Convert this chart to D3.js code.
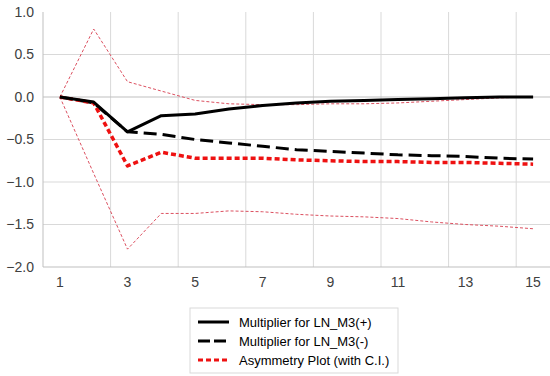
<!DOCTYPE html>
<html>
<head>
<meta charset="utf-8">
<script src="https://cdn.jsdelivr.net/npm/d3@7"></script>
<style>
  body { margin: 0; background: #fff; }
  svg { display: block; }
</style>
</head>
<body>
<svg width="550" height="376"></svg>
<script>
const periods = [1, 2, 3, 4, 5, 6, 7, 8, 9, 10, 11, 12, 13, 14, 15];
const multPos = [0, -0.06, -0.41, -0.22, -0.20, -0.14, -0.10, -0.07, -0.05, -0.04, -0.03, -0.02, -0.01, 0.0, 0.0];
const multNeg = [0, -0.07, -0.41, -0.44, -0.50, -0.54, -0.58, -0.62, -0.64, -0.66, -0.68, -0.69, -0.70, -0.72, -0.73];
const asym = [0, -0.07, -0.81, -0.65, -0.72, -0.72, -0.72, -0.74, -0.75, -0.76, -0.76, -0.77, -0.77, -0.78, -0.79];
const upperCI = [0, 0.80, 0.18, 0.07, -0.04, -0.08, -0.09, -0.09, -0.08, -0.08, -0.07, -0.05, -0.03, -0.01, 0.0];
const lowerCI = [0, -0.90, -1.79, -1.37, -1.37, -1.34, -1.35, -1.38, -1.40, -1.41, -1.43, -1.47, -1.50, -1.52, -1.55];
const yTicks = [1.0, 0.5, 0.0, -0.5, -1.0, -1.5, -2.0];
const xLabels = [1, 3, 5, 7, 9, 11, 13, 15];

const svg = d3.select('svg')
  .attr('font-family', "'Liberation Sans', Arial, sans-serif");
const margin = { top: 12, right: 0, bottom: 109, left: 43 };
const plotW = 550 - margin.left;
const plotH = 376 - margin.top - margin.bottom;

const g = svg.append('g')
  .attr('transform', `translate(${margin.left},${margin.top})`);

const xScale = d3.scaleBand()
  .domain(periods)
  .range([0, plotW]);
const yScale = d3.scaleLinear()
  .domain([-2, 1])
  .range([plotH, 0]);
const xPos = d => xScale(d) + xScale.bandwidth() / 2;

// vertical grid at category boundaries, every 2 categories
g.selectAll('.vgrid').data(periods.filter((d, i) => i % 2 === 1))
  .enter().append('line')
    .attr('x1', d => xScale(d) + xScale.bandwidth())
    .attr('x2', d => xScale(d) + xScale.bandwidth())
    .attr('y1', 0).attr('y2', plotH)
    .attr('stroke', '#d9d9d9');

// horizontal grid (no line on the top value)
g.selectAll('.hgrid').data(yTicks.filter(d => d !== 1))
  .enter().append('line')
    .attr('x1', 0).attr('x2', plotW)
    .attr('y1', d => yScale(d)).attr('y2', d => yScale(d))
    .attr('stroke', d => d === 0 || d === -2 ? '#bfbfbf' : '#d9d9d9');

// left axis line
g.append('line')
  .attr('x1', 0).attr('x2', 0)
  .attr('y1', 0).attr('y2', plotH)
  .attr('stroke', '#bfbfbf');

const yAxis = d3.axisLeft(yScale).tickValues(yTicks).tickFormat(d3.format('.1f')).tickSize(0).tickPadding(9);
const yAxisG = g.append('g').call(yAxis)
  .attr('font-size', 14).attr('font-family', null);
yAxisG.select('.domain').remove();
yAxisG.selectAll('text').attr('fill', '#404040');

const xAxis = d3.axisBottom(xScale).tickValues(xLabels).tickSize(0).tickPadding(10);
const xAxisG = g.append('g').attr('transform', `translate(0,${plotH})`).call(xAxis)
  .attr('font-size', 14).attr('font-family', null);
xAxisG.select('.domain').remove();
xAxisG.selectAll('text').attr('fill', '#404040');

const line = d3.line()
  .x((d, i) => xPos(periods[i]))
  .y(d => yScale(d));

const series = [
  { values: upperCI, color: '#dc5060', width: 1, dash: '3,2' },
  { values: lowerCI, color: '#dc5060', width: 1, dash: '3,2' },
  { values: multNeg, color: '#000', width: 3, dash: '13,6' },
  { values: asym, color: '#ee1111', width: 3.5, dash: '5,3' },
  { values: multPos, color: '#000', width: 3, dash: null }
];

series.forEach(s => {
  g.append('path')
    .datum(s.values)
    .attr('d', line)
    .attr('fill', 'none')
    .attr('stroke', s.color)
    .attr('stroke-width', s.width)
    .attr('stroke-dasharray', s.dash)
    .attr('stroke-linejoin', 'round');
});

// legend
const legendItems = [
  { label: 'Multiplier for LN_M3(+)', color: '#000', width: 3, dash: null },
  { label: 'Multiplier for LN_M3(-)', color: '#000', width: 3, dash: '12,4' },
  { label: 'Asymmetry Plot (with C.I.)', color: '#ee1111', width: 3, dash: '5,3' }
];
const legend = svg.append('g').attr('transform', 'translate(190,308)');
legend.append('rect')
  .attr('width', 208).attr('height', 65)
  .attr('fill', '#fff').attr('stroke', '#d9d9d9');
const li = legend.selectAll('.li').data(legendItems)
  .enter().append('g')
    .attr('transform', (d, i) => `translate(0,${14 + i * 19})`);
li.append('line')
  .attr('x1', 8).attr('x2', 39)
  .attr('stroke', d => d.color)
  .attr('stroke-width', d => d.width)
  .attr('stroke-dasharray', d => d.dash);
li.append('text')
  .attr('x', 49).attr('dy', '0.35em')
  .attr('font-size', 13)
  .attr('fill', '#000')
  .text(d => d.label);
</script>
</body>
</html>
